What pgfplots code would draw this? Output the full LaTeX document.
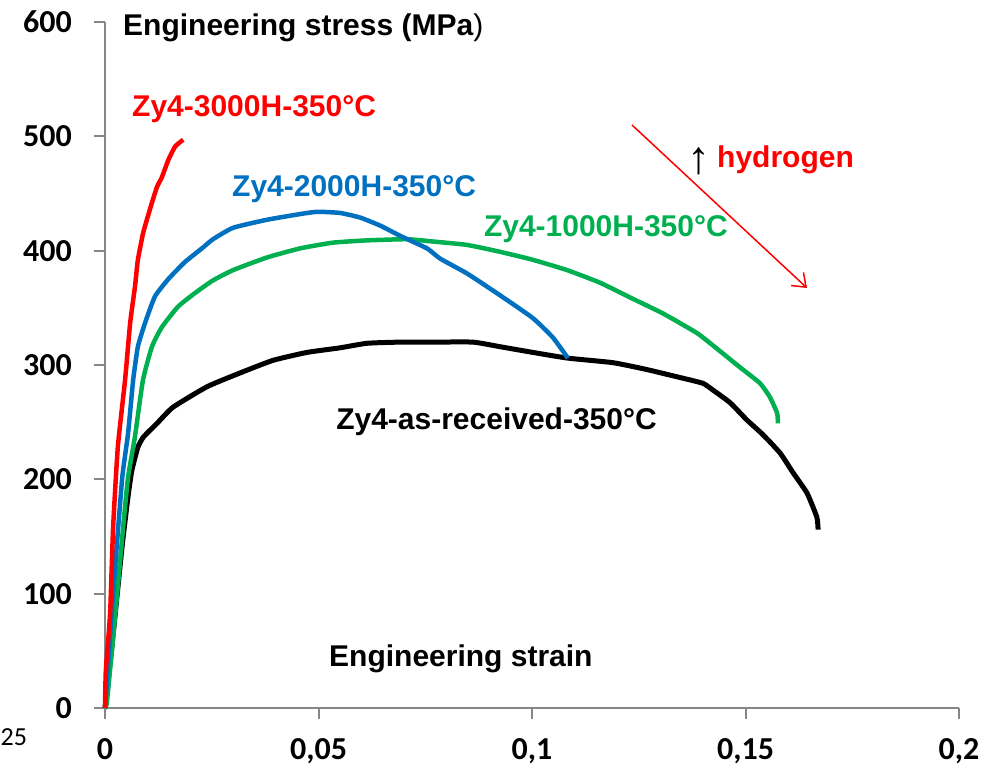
\documentclass[border=0pt]{standalone}
\usepackage{pgfplots}
\pgfplotsset{compat=1.18}
\usepackage{fontspec}
\setmainfont{Liberation Sans}
\newfontfamily\carlito{Carlito}
\usetikzlibrary{arrows.meta}
\definecolor{axgray}{RGB}{134,134,134}
\definecolor{cred}{RGB}{255,0,0}
\definecolor{cblue}{RGB}{0,112,192}
\definecolor{cgreen}{RGB}{0,176,80}
\newcommand{\lab}{\bfseries\fontsize{30bp}{36bp}\selectfont}
\begin{document}
\begin{tikzpicture}
\begin{axis}[
  scale only axis, width=854bp, height=686bp,
  xmin=0, xmax=0.2, ymin=0, ymax=600,
  axis lines=left, axis line style={-, axgray, line width=2bp},
  tick align=outside, major tick length=11bp,
  tick style={axgray, line width=2bp},
  xtick={0,0.05,0.1,0.15,0.2},
  xticklabels={0,{0,05},{0,1},{0,15},{0,2}},
  ytick={0,100,200,300,400,500,600},
  yticklabels={0,100,200,300,400,500,600},
  xticklabel style={font={\carlito\bfseries\fontsize{32bp}{38bp}\selectfont}, inner sep=0pt, anchor=north},
  yticklabel style={font={\carlito\bfseries\fontsize{32bp}{38bp}\selectfont}, inner sep=0pt, anchor=east},
  xticklabel shift=19bp, yticklabel shift=22bp,
  clip=false,
]
% Zy4-as-received
\addplot[black, line width=5bp, line join=round, smooth, tension=0.3] coordinates {
(0,0) (0.0016,53) (0.0040,141) (0.0054,185) (0.0063,208) (0.0077,228) (0.0090,237)
(0.0122,249) (0.0159,263) (0.0239,281) (0.0316,293) (0.0393,304) (0.0473,311)
(0.0550,315) (0.0614,319) (0.0691,320) (0.0768,320) (0.0862,320) (0.0925,316)
(0.1002,311) (0.1084,306) (0.1190,302) (0.1269,296) (0.1347,289) (0.1400,284)
(0.1424,278) (0.1464,267) (0.1503,252) (0.1541,239) (0.1581,223) (0.1611,206)
(0.1644,188) (0.1667,167) (0.1670,156)};
% Zy4-1000H
\addplot[cgreen, line width=4.5bp, line join=round, smooth, tension=0.3] coordinates {
(0,0) (0.0005,7) (0.0027,94) (0.0042,156) (0.0054,202) (0.0070,237) (0.0089,287)
(0.0110,316) (0.0133,333) (0.0171,351) (0.0211,363) (0.0253,374) (0.0300,383)
(0.0379,394) (0.0457,402) (0.0534,407) (0.0614,409) (0.0707,410) (0.0768,408)
(0.0848,405) (0.0925,399) (0.1002,392) (0.1082,383) (0.1159,372) (0.1230,359)
(0.1307,345) (0.1386,328) (0.1424,317) (0.1487,298) (0.1534,284) (0.1557,272)
(0.1574,258) (0.1576,249)};
% Zy4-2000H
\addplot[cblue, line width=4.5bp, line join=round, smooth, tension=0.3] coordinates {
(0,0) (0.0019,100) (0.0040,200) (0.0054,240) (0.0066,287) (0.0077,316) (0.0094,337)
(0.0117,360) (0.0148,375) (0.0187,390) (0.0227,402) (0.0253,410) (0.0300,420)
(0.0379,427) (0.0457,432) (0.0497,434) (0.0550,433) (0.0597,429) (0.0644,422)
(0.0691,413) (0.0754,402) (0.0785,393) (0.0848,380) (0.0925,361) (0.1002,341)
(0.1049,324) (0.1084,306)};
% Zy4-3000H
\addplot[cred, line width=4.5bp, line join=round, smooth, tension=0.3] coordinates {
(0,0) (0.0002,33) (0.0012,83) (0.0019,158) (0.0030,228) (0.0047,287) (0.0059,337)
(0.0070,368) (0.0077,392) (0.0089,415) (0.0098,427) (0.0110,442) (0.0122,456)
(0.0133,464) (0.0148,479) (0.0164,491) (0.0183,497)};
\end{axis}
\coordinate (O) at (current axis.south west);
\begin{scope}[x=1bp, y=-1bp, shift={(O)}]
\begin{scope}[shift={(-105,-708)}]
  \node[anchor=base west, inner sep=0pt] at (123,36) {\lab Engineering stress (MPa\mdseries)};
  \node[anchor=base west, inner sep=0pt] at (329,667) {\lab Engineering strain};
  \node[anchor=base west, inner sep=0pt, text=cred] at (132,117) {\lab Zy4-3000H-350°C};
  \node[anchor=base west, inner sep=0pt, text=cblue] at (232,197) {\lab Zy4-2000H-350°C};
  \node[anchor=base east, inner sep=0pt, text=cgreen] at (728,237) {\lab Zy4-1000H-350°C};
  \node[anchor=base east, inner sep=0pt, text=black] at (657,430) {\lab Zy4-as-received-350°C};
  \node[anchor=base west, inner sep=0pt, text=cred] at (717,168) {\lab hydrogen};
  \node[anchor=center, inner sep=0pt] at (699,161) {\fontsize{46bp}{50bp}\selectfont ↑};
  \draw[cred, line width=1.5bp, -{Straight Barb[length=12bp, width=18bp]}] (632,125) -- (807,288);
  \node[anchor=base west, inner sep=0pt] at (0.5,746) {\carlito\fontsize{26bp}{30bp}\selectfont 25};
  \pgfresetboundingbox
  \path[use as bounding box] (0,0) rectangle (994,766);
\end{scope}
\end{scope}
\end{tikzpicture}
\end{document}
